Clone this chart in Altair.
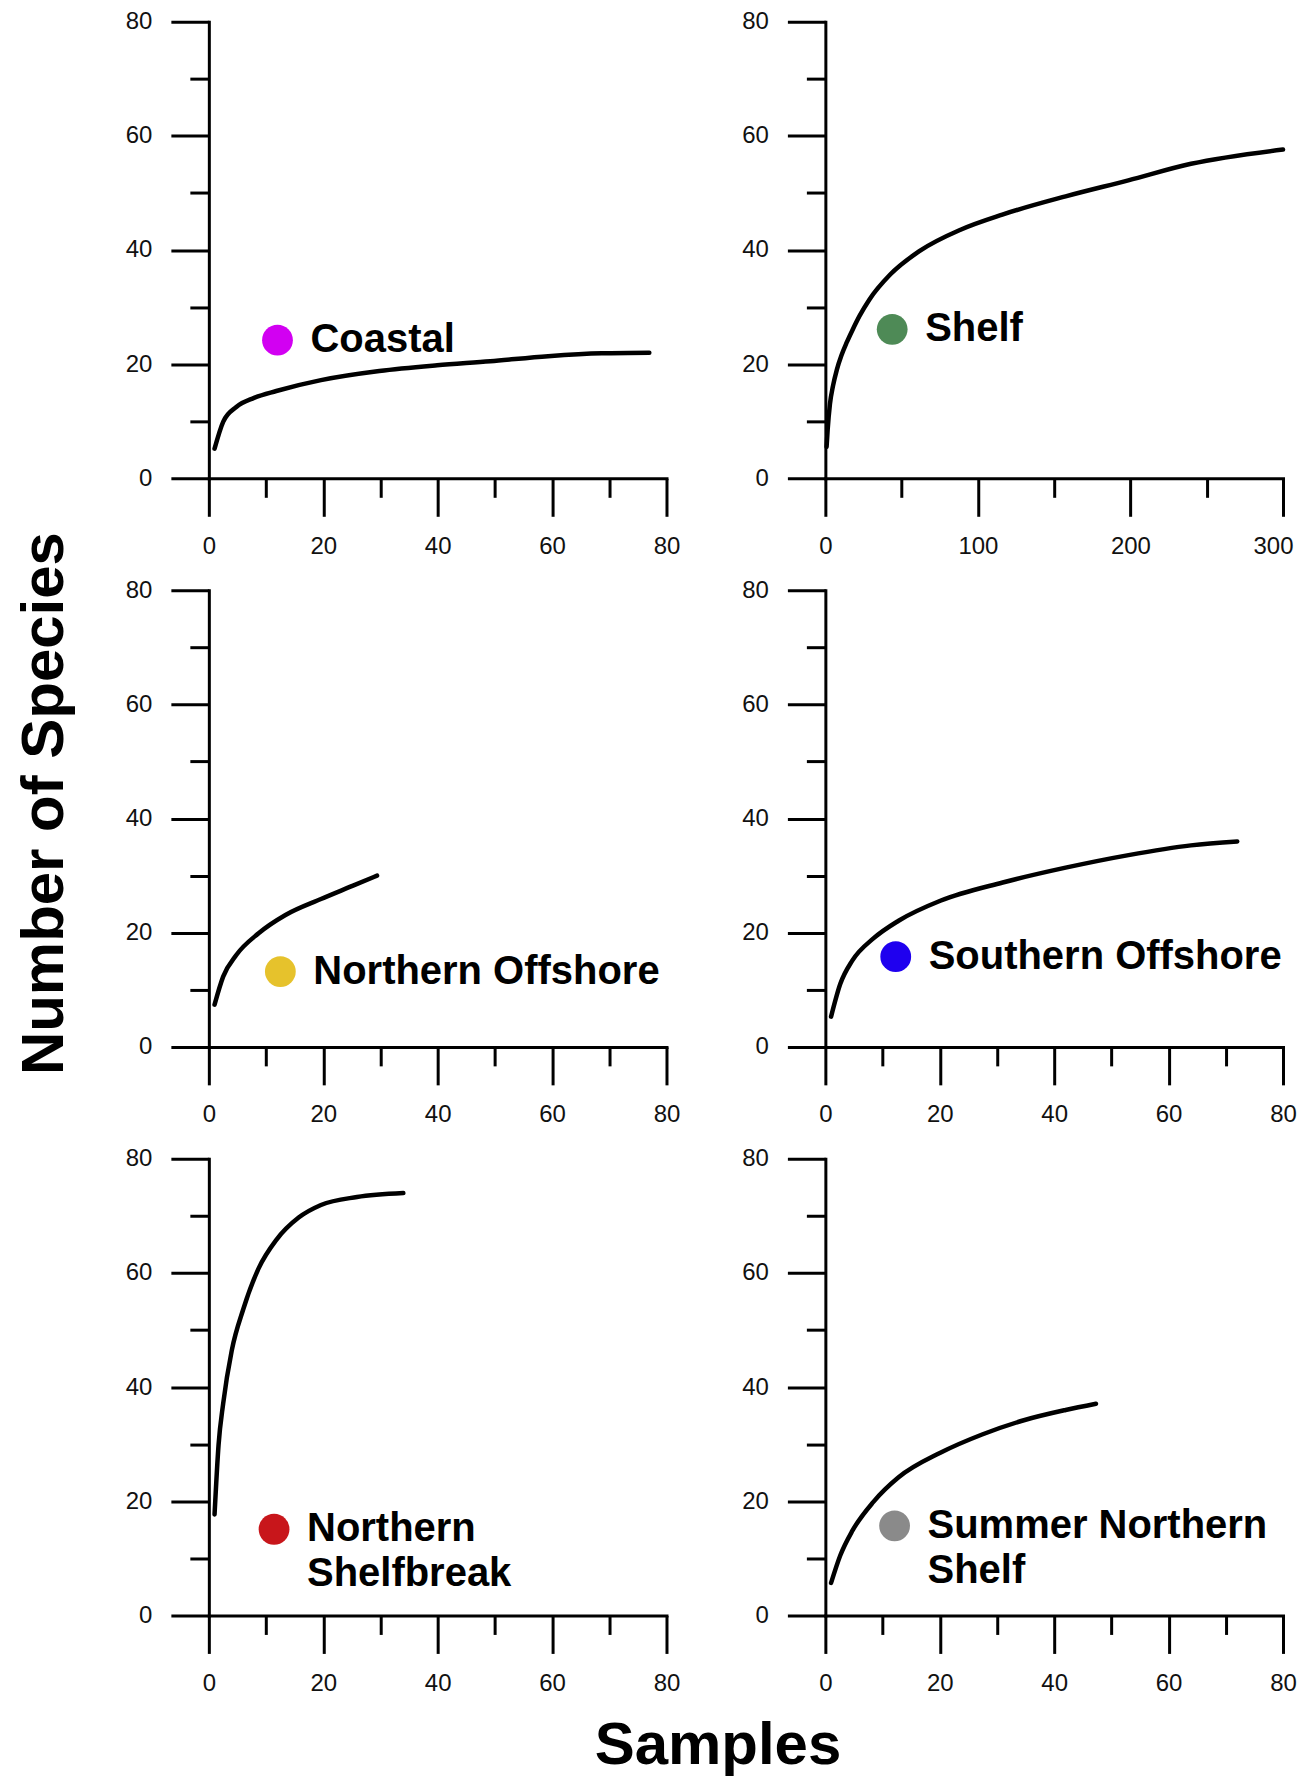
import altair as alt
import pandas as pd

# ---------------- data ----------------
coastal_x = [1, 2.5, 4.8, 7.9, 11.8, 19.6, 29.8, 39.9, 49.2, 59.3, 68.7, 77]
coastal_y = [5.2, 9.9, 12.5, 14.1, 15.3, 17.2, 18.8, 19.8, 20.5, 21.4, 21.9, 22.0]

shelf_x = [0.8, 1.5, 3, 5, 7.5, 10.5, 14, 17.8, 22.5, 28.8, 42.5, 61.6, 89, 116, 157.5, 198.6, 239.7, 300]
shelf_y = [5.5, 8.5, 13, 16.2, 19, 21.5, 23.8, 26, 28.5, 31.3, 35.7, 39.8, 43.6, 46.2, 49.4, 52.2, 55.1, 57.6]

n_off_x = [1, 2.5, 4.8, 8.7, 13.4, 19.6, 25.1, 29.4]
n_off_y = [7.4, 12.3, 16.1, 19.9, 23.1, 25.9, 28.2, 30.0]

s_off_x = [1, 2.6, 4.7, 8.4, 12.8, 20.1, 31, 42, 53, 63.9, 72]
s_off_y = [5.3, 11, 15.1, 19, 22.1, 25.6, 28.8, 31.4, 33.6, 35.3, 36.0]

shelfbreak_x = [1, 1.7, 2.5, 4.0, 6.0, 8.7, 11.8, 15.7, 19.6, 25.9, 34]
shelfbreak_y = [17.7, 29.9, 37.1, 46.4, 53.6, 60.8, 65.8, 69.7, 71.9, 73.3, 74.0]

summer_x = [1, 2.6, 4.7, 8.4, 12.8, 20.1, 27.4, 34.7, 42, 47.3]
summer_y = [5.7, 10.5, 14.8, 19.9, 24.2, 28.5, 31.7, 34.2, 36.0, 37.1]

names = ["Coastal", "Shelf", "Northern Offshore", "Southern Offshore",
         "Northern Shelfbreak", "Summer Northern Shelf"]
label_line1 = ["Coastal", "Shelf", "Northern Offshore", "Southern Offshore",
               "Northern", "Summer Northern"]
label_line2 = ["", "", "", "", "Shelfbreak", "Shelf"]
dot_x = [12, 43.8, 12.5, 12.3, 11.4, 12.1]
dot_y = [24.2, 26.1, 13.2, 15.8, 15.1, 15.7]
colors = ["#d200f2", "#4e8a56", "#e6c22c", "#1f00ef", "#c8161b", "#8a8a8a"]
x_max = [80, 300, 80, 80, 80, 80]
x_minor_step = [10, 50, 10, 10, 10, 10]
x_major_step = [20, 100, 20, 20, 20, 20]
series_x = [coastal_x, shelf_x, n_off_x, s_off_x, shelfbreak_x, summer_x]
series_y = [coastal_y, shelf_y, n_off_y, s_off_y, shelfbreak_y, summer_y]

y_ticks = list(range(0, 81, 10))

W, H = 458, 457
FONT = "Liberation Sans"


def make_panel(i):
    line_df = pd.DataFrame({"x": series_x[i], "y": series_y[i]})
    lab_df = pd.DataFrame({"x": [dot_x[i]], "y": [dot_y[i]],
                           "l1": [label_line1[i]], "l2": [label_line2[i]]})
    xmaj = x_major_step[i]
    xaxis_kw = dict(
        values=list(range(0, x_max[i] + 1, x_minor_step[i])),
        labelExpr=f"datum.value % {xmaj} == 0 ? datum.label : ''",
        tickSize={"condition": {"test": f"datum.value % {xmaj} != 0", "value": 19}, "value": 38},
        grid=False, labelFlush=False, labelOverlap=False,
    )
    if x_max[i] == 300:
        # last label sits against the right edge of the page, as in the reference
        xaxis_kw.update(
            labelAlign={"condition": {"test": "datum.value == 300", "value": "right"}, "value": "center"},
            labelOffset={"condition": {"test": "datum.value == 300", "value": 10}, "value": 0},
        )
    yaxis_kw = dict(
        values=y_ticks,
        labelExpr="datum.value % 20 == 0 ? datum.label : ''",
        tickSize={"condition": {"test": "datum.value % 20 != 0", "value": 19}, "value": 38},
        grid=False, labelFlush=False, labelOverlap=False,
    )
    if i == 4:
        xaxis_kw.update(title="Samples", titleX=509, titleY=148, titleAlign="center",
                        titleBaseline="alphabetic", titleAnchor="start")
    else:
        xaxis_kw.update(title=None)
    if i == 2:
        yaxis_kw.update(title="Number of Species", titleX=-146, titleY=213, titleAngle=270,
                        titleAlign="center", titleBaseline="alphabetic", titleAnchor="start",
                        titleFontSize=60)
    else:
        yaxis_kw.update(title=None)

    xenc = alt.X("x:Q", scale=alt.Scale(domain=[0, x_max[i]], nice=False, zero=True),
                 axis=alt.Axis(**xaxis_kw))
    yenc = alt.Y("y:Q", scale=alt.Scale(domain=[0, 80], nice=False),
                 axis=alt.Axis(**yaxis_kw))

    line = alt.Chart(line_df).mark_line(color="black", strokeWidth=4.5,
                                        interpolate="monotone", strokeCap="round").encode(x=xenc, y=yenc)
    dot = alt.Chart(lab_df).mark_circle(size=950, opacity=1, color=colors[i]).encode(x=xenc, y=yenc)
    t1 = alt.Chart(lab_df).mark_text(align="left", baseline="middle", dx=33, font=FONT,
                                     fontWeight="bold", fontSize=40, color="black").encode(
        x=xenc, y=yenc, text="l1:N")
    t2 = alt.Chart(lab_df).mark_text(align="left", baseline="middle", dx=33, dy=45, font=FONT,
                                     fontWeight="bold", fontSize=40, color="black").encode(
        x=xenc, y=yenc, text="l2:N")
    return alt.layer(line, dot, t1, t2).properties(width=W, height=H)


panels = [make_panel(i) for i in range(6)]

chart = alt.concat(*panels, columns=2, spacing={"row": 112, "column": 159}, bounds="flush").properties(
    padding={"left": 6, "top": 1, "right": 0, "bottom": 5}
).configure_view(stroke=None).configure_axis(
    domainColor="black", domainWidth=3, tickColor="black", tickWidth=3,
    labelFont=FONT, labelFontSize=24, labelColor="#111", labelPadding=19,
    titleFont=FONT, titleFontWeight="bold", titleFontSize=60, titleColor="black",
    domainCap="square"
).configure_axisX(labelPadding=18).configure_axisY(labelPadding=19)

chart.save("out.html", embed_options={"renderer": "svg", "actions": False})
